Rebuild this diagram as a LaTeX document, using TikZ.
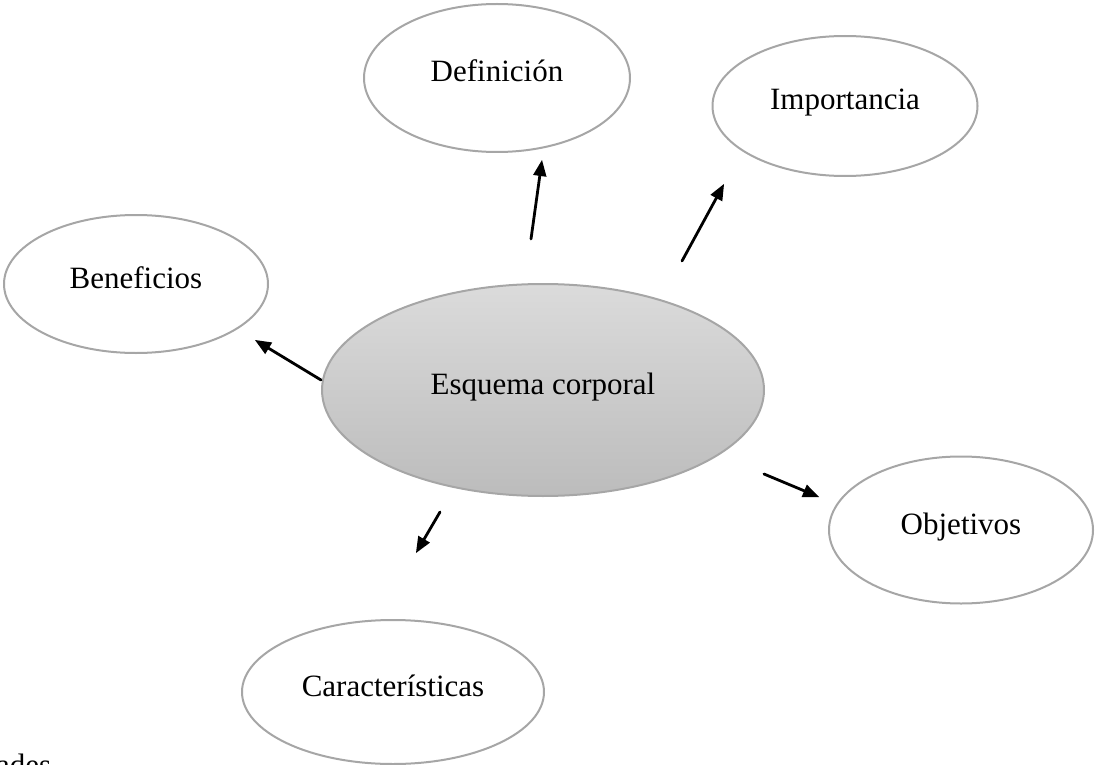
\documentclass[tikz,border=0pt]{standalone}
\usepackage{fontspec}
\setmainfont{Liberation Serif}
\usetikzlibrary{arrows,shapes.geometric}
\definecolor{rimgray}{RGB}{166,166,166}
\definecolor{hubtop}{RGB}{219,219,219}
\definecolor{hubbottom}{RGB}{188,188,188}
\tikzset{
	topic/.style={ellipse,draw=rimgray,line width=2pt,fill=white,inner sep=0pt,text height=22pt,text depth=14pt,font=\fontsize{31}{37}\selectfont},
	hub/.style={topic,top color=hubtop,bottom color=hubbottom},
	link/.style={->,line width=2.8pt,black}
}

\begin{document}
\begin{tikzpicture}[line cap=round,line join=round,>=triangle 45,x=1pt,y=-1pt]
			\useasboundingbox (0,0) rectangle (1095,765);
			\clip (0,0) rectangle (1095,765);
			% nodes
			\node[hub,minimum width=442pt,minimum height=212pt] (esquema) at (543,390) {Esquema corporal};
			\node[topic,minimum width=266pt,minimum height=148pt] (definicion) at (497,78) {Definición};
			\node[topic,minimum width=265pt,minimum height=140pt] (importancia) at (845,106) {Importancia};
			\node[topic,minimum width=264pt,minimum height=138pt] (beneficios) at (136,284) {Beneficios};
			\node[topic,minimum width=264pt,minimum height=147pt] (objetivos) at (961,530) {Objetivos};
			\node[topic,minimum width=302pt,minimum height=144pt] (caracteristicas) at (393,692) {Características};
			\node[anchor=base west,inner sep=0pt,font=\fontsize{31}{37}\selectfont] (resto) at (-4,775) {ades};
			% arrow ends
			\coordinate (d0) at (531,239);
			\coordinate (d1) at (542,160);
			\coordinate (i0) at (682,261);
			\coordinate (i1) at (724,184);
			\coordinate (b0) at (321,380);
			\coordinate (b1) at (255,340);
			\coordinate (o0) at (764,474);
			\coordinate (o1) at (819,497);
			\coordinate (c0) at (440,512);
			\coordinate (c1) at (416,553);
			% arrows
			\draw[link] (d0) -- (d1);
			\draw[link] (i0) -- (i1);
			\draw[link] (b0) -- (b1);
			\draw[link] (o0) -- (o1);
			\draw[link] (c0) -- (c1);
		\end{tikzpicture}
\end{document}
